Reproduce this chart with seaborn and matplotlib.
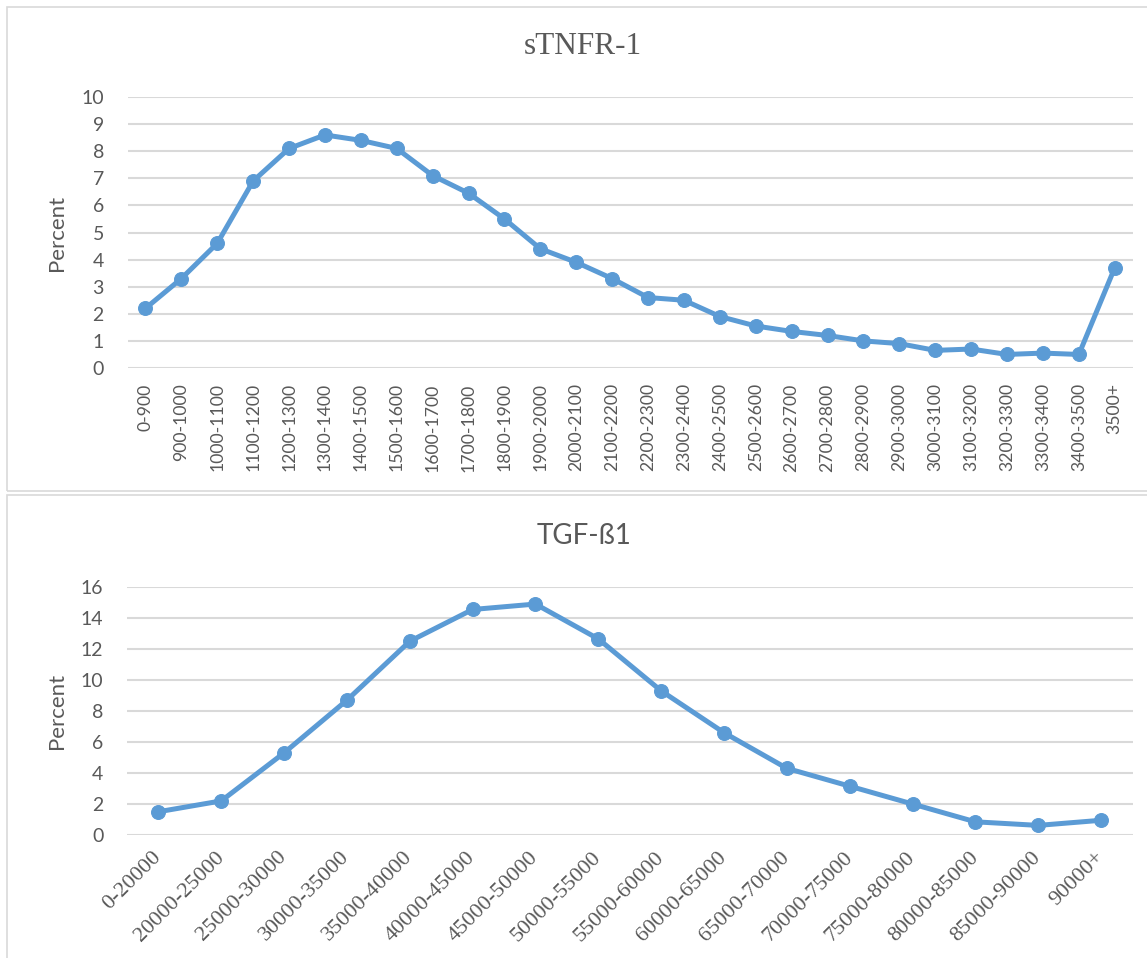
import pandas as pd
import seaborn as sns
import matplotlib.pyplot as plt
from matplotlib.patches import Rectangle

# --- Data ---
stnfr_bins = ["0-900", "900-1000", "1000-1100", "1100-1200", "1200-1300",
              "1300-1400", "1400-1500", "1500-1600", "1600-1700", "1700-1800",
              "1800-1900", "1900-2000", "2000-2100", "2100-2200", "2200-2300",
              "2300-2400", "2400-2500", "2500-2600", "2600-2700", "2700-2800",
              "2800-2900", "2900-3000", "3000-3100", "3100-3200", "3200-3300",
              "3300-3400", "3400-3500", "3500+"]
stnfr_pct = [2.2, 3.3, 4.6, 6.9, 8.1, 8.6, 8.4, 8.1, 7.1, 6.45, 5.5, 4.4, 3.9,
             3.3, 2.6, 2.5, 1.9, 1.55, 1.35, 1.2, 1.0, 0.9, 0.65, 0.7, 0.5,
             0.55, 0.5, 3.7]

tgf_bins = ["0-20000", "20000-25000", "25000-30000", "30000-35000",
            "35000-40000", "40000-45000", "45000-50000", "50000-55000",
            "55000-60000", "60000-65000", "65000-70000", "70000-75000",
            "75000-80000", "80000-85000", "85000-90000", "90000+"]
tgf_pct = [1.5, 2.2, 5.3, 8.7, 12.5, 14.55, 14.9, 12.65, 9.3, 6.6, 4.3, 3.15,
           2.0, 0.85, 0.62, 0.95]

stnfr = pd.DataFrame({"bin": stnfr_bins, "pct": stnfr_pct})
tgf = pd.DataFrame({"bin": tgf_bins, "pct": tgf_pct})

sns.set_theme(style="white")
plt.rcParams["font.family"] = ["Lato", "DejaVu Sans"]

BLUE = "#5B9BD5"
TEXT = "#595959"
GRID = "#D9D9D9"
SERIF = ["Liberation Serif", "DejaVu Serif"]

W, H = 1147, 958
fig = plt.figure(figsize=(W / 100, H / 100), dpi=100)


def px_axes(left, top, right, bottom):
    return fig.add_axes([left / W, 1 - bottom / H, (right - left) / W, (bottom - top) / H])


# panel frames
for y0, y1 in [(7, 491), (495, 990)]:
    fig.add_artist(Rectangle((7 / W, 1 - y1 / H), 1200 / W, (y1 - y0) / H,
                             transform=fig.transFigure, fill=False,
                             edgecolor=GRID, linewidth=1.2))

ax1 = px_axes(127.5, 97, 1132.7, 368)
ax2 = px_axes(127, 587, 1132.5, 835)


def style(ax, df, ymax, step):
    sns.lineplot(data=df, x="bin", y="pct", ax=ax, sort=False, color=BLUE,
                 linewidth=3.6, marker="o", markersize=10,
                 markeredgecolor=BLUE, markerfacecolor=BLUE)
    ax.set_xlim(-0.5, len(df) - 0.5)
    ax.set_ylim(0, ymax)
    ax.set_yticks(range(0, ymax + 1, step))
    ax.grid(axis="y", color=GRID, linewidth=1.5)
    ax.set_axisbelow(True)
    for s in ax.spines.values():
        s.set_visible(False)
    ax.tick_params(axis="both", length=0, colors=TEXT)
    ax.tick_params(axis="y", labelsize=14, pad=17)
    ax.set_xlabel("")
    ax.set_ylabel("Percent", fontsize=16, color=TEXT, va="center")
    ax.yaxis.set_label_coords(-0.0701, 0.5)
    ax.set_xticks(range(len(df)))


style(ax1, stnfr, 10, 1)
ax1.tick_params(axis="x", labelsize=12.7, pad=11, labelrotation=90)
ax1.set_xticklabels(stnfr_bins)

style(ax2, tgf, 16, 2)
ax2.tick_params(axis="x", labelsize=16, pad=14, labelrotation=45,
                labelfontfamily="Liberation Serif")
ax2.set_xticklabels(tgf_bins)

fig.canvas.draw()
for lab in ax2.get_xticklabels():
    lab.set_ha("right")
    lab.set_va("center")
    lab.set_rotation_mode("anchor")
    lab.set_family(SERIF)
    lab.set_fontsize(16)

fig.text(583 / W, 1 - 46 / H, "sTNFR-1", ha="center", va="center",
         fontsize=22.5, color=TEXT, family=SERIF)
fig.text(584 / W, 1 - 536 / H, "TGF-ß1", ha="center", va="center",
         fontsize=20, color=TEXT)

fig.savefig("out.png", dpi=100)
